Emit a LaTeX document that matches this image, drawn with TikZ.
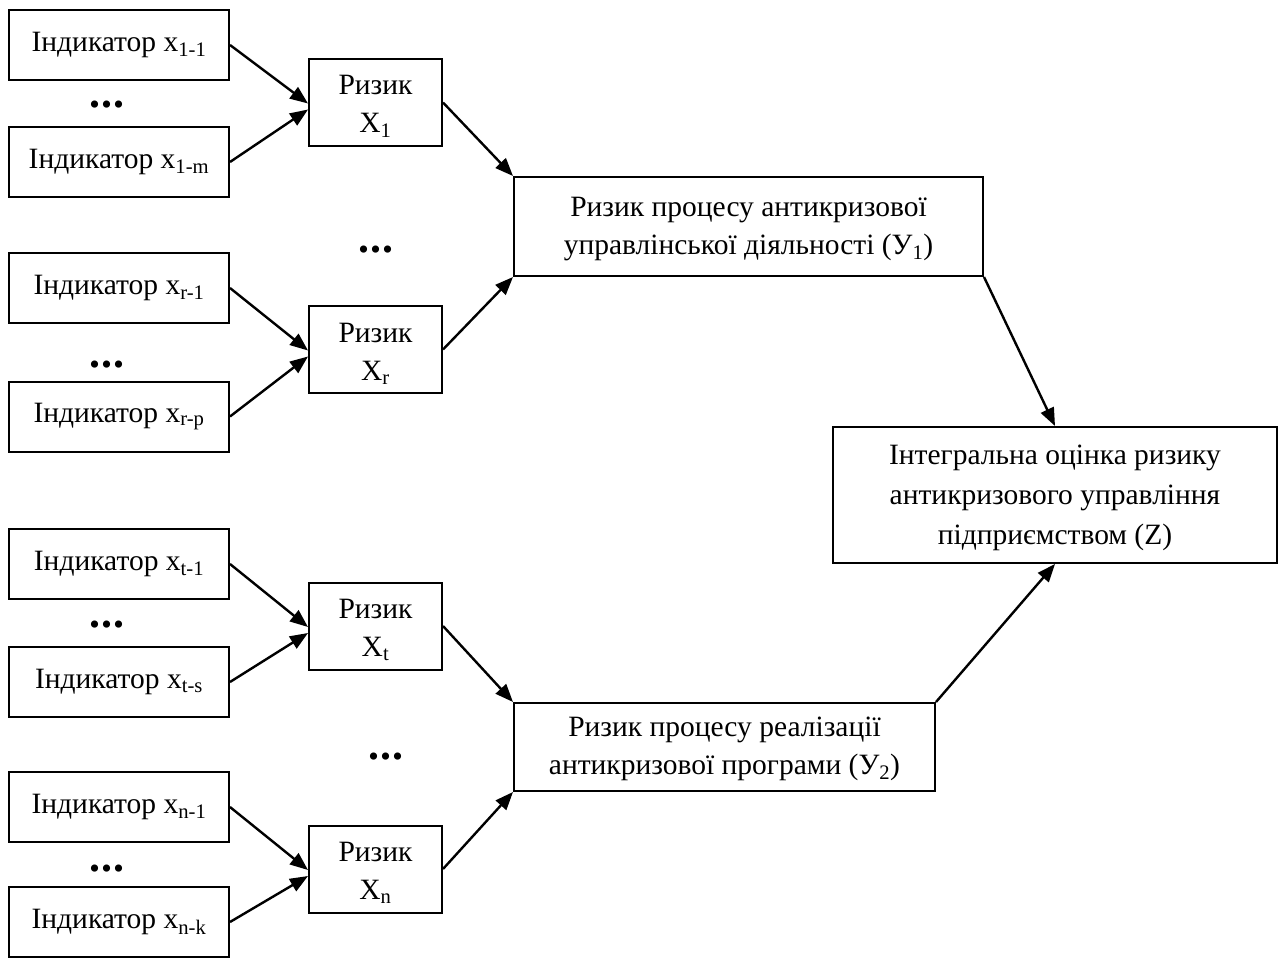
\documentclass[tikz,border=0pt]{standalone}
\usepackage{fontspec}
\setmainfont{Liberation Serif}
\usetikzlibrary{arrows.meta,calc}
\begin{document}
\begin{tikzpicture}[x=1pt,y=-1pt,
  box/.style={draw,line width=2pt,inner sep=0pt,align=center,font=\fontsize{29.5}{37}\selectfont},
  ind/.style={box,minimum width=220pt,minimum height=70pt},
  risk/.style={box,minimum width=133pt,minimum height=87pt},
  rtext/.style={inner sep=0pt,align=center,font=\fontsize{29.5}{38}\selectfont},
  arr/.style={line width=2.4pt,-{Triangle[length=18pt,width=14pt]}},
  dotsn/.style={inner sep=0pt,font=\fontsize{44}{44}\selectfont\bfseries}]
\useasboundingbox (0,0) rectangle (1280,958);

% indicators
\node[ind] (i11) at (119,45)    {Індикатор x\textsubscript{1-1}};
\node[ind] (i1m) at (119,162)   {Індикатор x\textsubscript{1-m}};
\node[ind] (ir1) at (119,288)   {Індикатор x\textsubscript{r-1}};
\node[ind] (irp) at (119,416.5) {Індикатор x\textsubscript{r-p}};
\node[ind] (it1) at (119,564)   {Індикатор x\textsubscript{t-1}};
\node[ind] (its) at (119,682)   {Індикатор x\textsubscript{t-s}};
\node[ind] (in1) at (119,807)   {Індикатор x\textsubscript{n-1}};
\node[ind] (ink) at (119,922)   {Індикатор x\textsubscript{n-k}};

% risks
\node[risk] (X1) at (375.5,102.5) {};
\node[risk] (Xr) at (375.5,349.5) {};
\node[risk] (Xt) at (375.5,626)   {};
\node[risk] (Xn) at (375.5,869)   {};
\node[rtext] (X1t) at ([yshift=-4pt]X1.center) {Ризик\\X\textsubscript{1}};
\node[rtext] (Xrt) at ([yshift=-4pt]Xr.center) {Ризик\\X\textsubscript{r}};
\node[rtext] (Xtt) at ([yshift=-4pt]Xt.center) {Ризик\\X\textsubscript{t}};
\node[rtext] (Xnt) at ([yshift=-4pt]Xn.center) {Ризик\\X\textsubscript{n}};

% aggregated
\node[box,minimum width=469pt,minimum height=99pt] (Y1) at (748.5,226.5) {};
\node[rtext,font=\fontsize{29.5}{37.5}\selectfont] (Y1t) at ([yshift=-2.5pt]Y1.center)
  {Ризик процесу антикризової\\управлінської діяльності (У\textsubscript{1})};
\node[box,minimum width=421pt,minimum height=88pt] (Y2) at (724.5,747) {};
\node[rtext,font=\fontsize{29.5}{37.5}\selectfont] (Y2t) at ([yshift=-2pt]Y2.center)
  {Ризик процесу реалізації\\антикризової програми (У\textsubscript{2})};
\node[box,minimum width=444pt,minimum height=136pt] (Z) at (1055,495) {};
\node[rtext,font=\fontsize{29.5}{40}\selectfont] (Zt) at ([yshift=-2.5pt]Z.center)
  {Інтегральна оцінка ризику\\антикризового управління\\підприємством (Z)};

% dots
\node[dotsn] (d1) at (107,105) {.\kern1.5pt.\kern1.5pt.};
\node[dotsn] (d2) at (107,365) {.\kern1.5pt.\kern1.5pt.};
\node[dotsn] (d3) at (107,625) {.\kern1.5pt.\kern1.5pt.};
\node[dotsn] (d4) at (107,869) {.\kern1.5pt.\kern1.5pt.};
\node[dotsn] (d5) at (376,250) {.\kern1.5pt.\kern1.5pt.};
\node[dotsn] (d6) at (386,757) {.\kern1.5pt.\kern1.5pt.};

% arrows indicators -> risks
\draw[arr] (i11.east) -- ([yshift=-1pt]X1.west);
\draw[arr] (i1m.east) -- ([yshift=-7pt]X1.west);
\draw[arr] (ir1.east) -- ([yshift=-1pt]Xr.west);
\draw[arr] (irp.east) -- ([yshift=-7pt]Xr.west);
\draw[arr] (it1.east) -- ([yshift=-1pt]Xt.west);
\draw[arr] (its.east) -- ([yshift=-7pt]Xt.west);
\draw[arr] (in1.east) -- ([yshift=-1pt]Xn.west);
\draw[arr] (ink.east) -- ([yshift=-7pt]Xn.west);

% risks -> processes
\draw[arr] (X1.east) -- (Y1.north west);
\draw[arr] (Xr.east) -- (Y1.south west);
\draw[arr] (Xt.east) -- (Y2.north west);
\draw[arr] (Xn.east) -- (Y2.south west);

% processes -> integral
\draw[arr] (Y1.south east) -- (Z.north);
\draw[arr] (Y2.north east) -- (Z.south);
\end{tikzpicture}
\end{document}
